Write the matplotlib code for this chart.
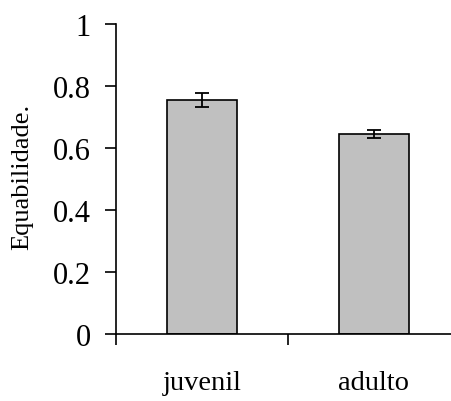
import matplotlib.pyplot as plt
import numpy as np

# Data
categorias = ['juvenil', 'adulto']
equabilidade = [0.755, 0.646]
erro = [0.023, 0.013]
y_ticks = [0, 0.2, 0.4, 0.6, 0.8, 1]
y_ticklabels = ['0', '0.2', '0.4', '0.6', '0.8', '1']

plt.rcParams['font.family'] = ['Liberation Serif', 'DejaVu Serif']

fig = plt.figure(figsize=(4.52, 4.02), dpi=100)
# axes extend past the right edge, like the original (clipped)
ax = fig.add_axes([116 / 452, 67 / 402, 344 / 452, 310 / 402])

x = np.arange(len(categorias))
ax.bar(x, equabilidade, width=0.41, color='#c0c0c0', edgecolor='black', linewidth=1.2, zorder=2)
ax.errorbar(x, equabilidade, yerr=erro, fmt='none', ecolor='black', elinewidth=1.3,
            capsize=4.7, capthick=1.3, zorder=3)

ax.set_xlim(-0.5, 1.5)
ax.set_ylim(0, 1)

# y axis
ax.set_yticks(y_ticks)
ax.set_yticklabels(y_ticklabels, fontsize=22)
ax.tick_params(axis='y', direction='out', length=8, width=1.2, pad=10)

# x axis: ticks at boundaries, labels at centres
ax.set_xticks([-0.5, 0.5, 1.5])
ax.set_xticklabels(['', '', ''])
ax.set_xticks(x, minor=True)
ax.set_xticklabels(categorias, minor=True, fontsize=20.5)
ax.tick_params(axis='x', which='major', direction='out', length=8, width=1.2)
ax.tick_params(axis='x', which='minor', length=0, pad=26)

ax.spines['top'].set_visible(False)
ax.spines['right'].set_visible(False)
ax.spines['left'].set_linewidth(1.2)
ax.spines['bottom'].set_linewidth(1.2)

ax.set_ylabel('Equabilidade.', fontsize=19)
ax.yaxis.set_label_coords(-83 / 344, 0.51)

fig.savefig('out.png', dpi=100)
